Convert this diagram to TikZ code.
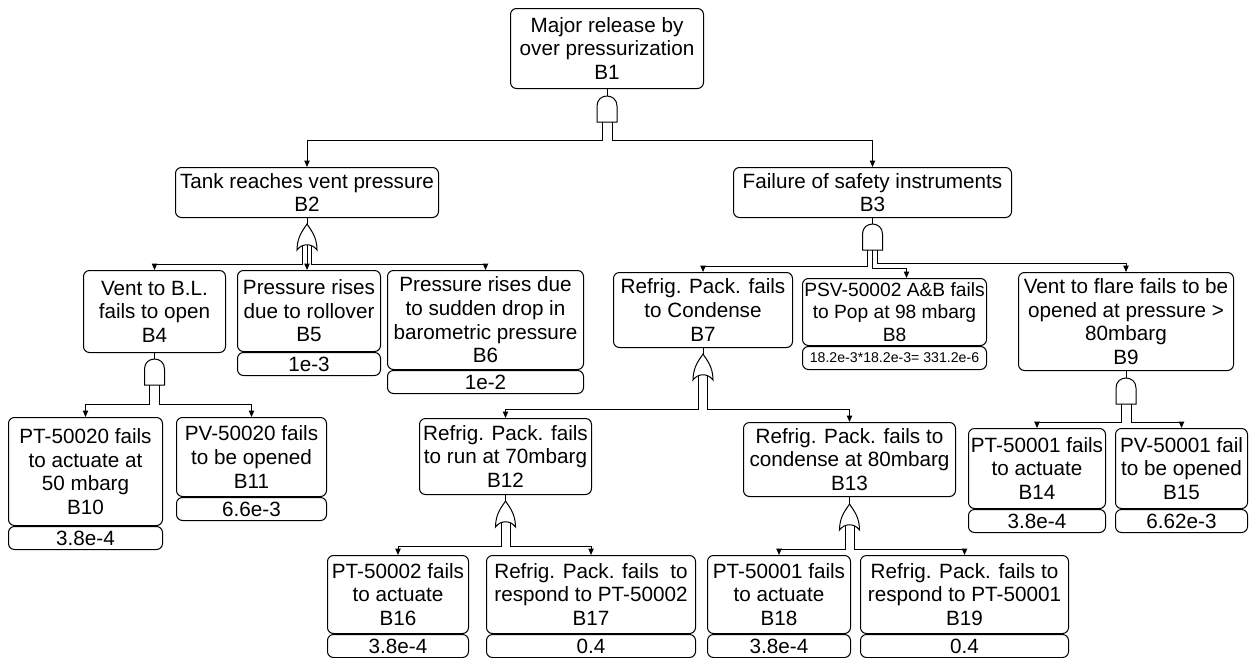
\documentclass[tikz,border=0pt]{standalone}
\usepackage{fontspec}
\setmainfont{Liberation Sans}
\usetikzlibrary{arrows.meta,calc}
\newdimen\pxu \pxu=0.75pt
\newcommand\FTmain{\fontsize{15.5}{17.7}\selectfont}
\newcommand\FTeight{\fontsize{14.4}{17.0}\selectfont}
\newcommand\FTsmall{\fontsize{10.6}{12}\selectfont}
\tikzset{
  box/.style={draw, rounded corners=4.5pt, line width=0.75pt, align=center, inner sep=1pt, font=\FTmain, anchor=north west},
  sz/.style n args={2}{minimum width={#1\pxu}, minimum height={#2\pxu}},
  prob/.style={draw, rounded corners=4.5pt, line width=0.75pt, align=center, inner sep=0pt, font=\FTmain, anchor=north, minimum height=23\pxu, minimum width={#1\pxu}},
  arr/.style={-{Triangle[length=4.8pt,width=4pt]}, line width=0.75pt},
  ln/.style={line width=0.75pt},
  gate/.style={draw, line width=0.75pt, fill=white}
}
\tikzset{
  pics/andg/.style={code={
    \draw[gate] (-10,26) -- (-10,10) .. controls (-10,-3.3) and (10,-3.3) .. (10,10) -- (10,26) -- cycle;
    \coordinate (-top) at (0,0);
    \coordinate (-l) at (-5,26);
    \coordinate (-m) at (0,26);
    \coordinate (-r) at (5,26);
  }},
  pics/org/.style={code={
    \draw[gate] (0,0) .. controls (-3,5) and (-10,12) .. (-10,26)
      .. controls (-5,19) and (5,19) .. (10,26)
      .. controls (10,12) and (3,5) .. (0,0) -- cycle;
    \coordinate (-top) at (0,0);
    \coordinate (-l) at (-4.5,21.5);
    \coordinate (-m) at (0,20.5);
    \coordinate (-r) at (4.5,21.5);
  }}
}
\begin{document}
\begin{tikzpicture}[x=0.75pt,y=-0.75pt]
\useasboundingbox (0,0) rectangle (1253,657);

% boxes
\node[box, sz={193}{80}] (b1) at (510,8) {Major release by\\over pressurization\\B1};
\node[box, sz={263}{50}] (b2) at (175,167) {Tank reaches vent pressure\\B2};
\node[box, sz={278}{50}] (b3) at (733,167) {Failure of safety instruments\\B3};
\node[box, sz={142}{82}] (b4) at (83,270) {Vent to B.L.\\fails to open\\B4};
\node[box, sz={143}{81}] (b5) at (237,270) {Pressure rises\\due to rollover\\B5};
\node[prob=143] (b5p) at (b5.south) {1e-3};
\node[box, sz={196}{99}] (b6) at (387,270) {Pressure rises due\\to sudden drop in\\barometric pressure\\B6};
\node[prob=196] (b6p) at (b6.south) {1e-2};
\node[box, sz={179}{75}] (b7) at (613,272) {Refrig. Pack. fails\\to Condense\\B7};
\node[box, sz={184}{67}, font=\FTeight] (b8) at (802,278) {PSV-50002 A\&B fails\\to Pop at 98 mbarg\\B8};
\node[prob=184, font=\FTsmall] (b8p) at (b8.south) {18.2e-3*18.2e-3= 331.2e-6};
\node[box, sz={215}{98}] (b9) at (1018,272) {Vent to flare fails to be\\opened at pressure >\\80mbarg\\B9};
\node[box, sz={154}{108}] (b10) at (8,417) {PT-50020 fails\\to actuate at\\50 mbarg\\B10};
\node[prob=154] (b10p) at (b10.south) {3.8e-4};
\node[box, sz={150}{79}] (b11) at (176,417) {PV-50020 fails\\to be opened\\B11};
\node[prob=150] (b11p) at (b11.south) {6.6e-3};
\node[box, sz={172}{76}] (b12) at (419,418) {Refrig. Pack. fails\\to run at 70mbarg\\B12};
\node[box, sz={212}{74}] (b13) at (743,422) {Refrig. Pack. fails to\\condense at 80mbarg\\B13};
\node[box, sz={137}{80}] (b14) at (968,428) {PT-50001 fails\\to actuate\\B14};
\node[prob=137] (b14p) at (b14.south) {3.8e-4};
\node[box, sz={132}{80}] (b15) at (1115,428) {PV-50001 fail\\to be opened\\B15};
\node[prob=132] (b15p) at (b15.south) {6.62e-3};
\node[box, sz={141}{78}] (b16) at (327,555) {PT-50002 fails\\to actuate\\B16};
\node[prob=141] (b16p) at (b16.south) {3.8e-4};
\node[box, sz={209}{78}] (b17) at (486,555) {Refrig. Pack. fails~ to\\respond to PT-50002\\B17};
\node[prob=209] (b17p) at (b17.south) {0.4};
\node[box, sz={143}{78}] (b18) at (707,555) {PT-50001 fails\\to actuate\\B18};
\node[prob=143] (b18p) at (b18.south) {3.8e-4};
\node[box, sz={208}{78}] (b19) at (860,555) {Refrig. Pack. fails to\\respond to PT-50001\\B19};
\node[prob=208] (b19p) at (b19.south) {0.4};

% gates
\pic (g1) at ($(b1.south)+(0,7)$) {andg};
\pic (g2) at ($(b2.south)+(0,6)$) {org};
\pic (g3) at ($(b3.south)+(0,6)$) {andg};
\pic (g4) at ($(b4.south)+(0,6)$) {andg};
\pic (g7) at ($(b7.south)+(0,6)$) {org};
\pic (g9) at ($(b9.south)+(0,7)$) {andg};
\pic (g12) at ($(b12.south)+(0,6)$) {org};
\pic (g13) at ($(b13.south)+(0,7)$) {org};

% box to gate
\foreach \b/\g in {b1/g1,b2/g2,b3/g3,b4/g4,b7/g7,b9/g9,b12/g12,b13/g13}
  \draw[ln] (\b.south) -- (\g-top);

% connectors
\draw[arr] (g1-l) -- ++(0,18) -| (b2.north);
\draw[arr] (g1-r) -- ++(0,18) -| (b3.north);

\draw[arr] (g2-l) -- ++(0,19) -| (b4.north);
\draw[arr] (g2-m) -- (g2-m |- b5.north);
\draw[arr] (g2-r) -- ++(0,19) -| (b6.north);

\draw[arr] (g3-l) -- ++(0,16) -| (b7.north);
\draw[arr] (g3-m) -- ++(0,18) -| ($(b8.north)+(12,0)$);
\draw[arr] (g3-r) -- ++(0,13) -| (b9.north);

\draw[arr] (g4-l) -- ++(0,19) -| (b10.north);
\draw[arr] (g4-r) -- ++(0,19) -| (b11.north);

\draw[arr] (g7-l) -- ++(0,34) -| (b12.north);
\draw[arr] (g7-r) -- ++(0,34) -| (b13.north);

\draw[arr] (g9-l) -- ++(0,18) -| (b14.north);
\draw[arr] (g9-r) -- ++(0,18) -| (b15.north);

\draw[arr] (g12-l) -- ++(0,24) -| (b16.north);
\draw[arr] (g12-r) -- ++(0,24) -| (b17.north);

\draw[arr] (g13-l) -- ++(0,24) -| (b18.north);
\draw[arr] (g13-r) -- ++(0,24) -| (b19.north);
\end{tikzpicture}
\end{document}
